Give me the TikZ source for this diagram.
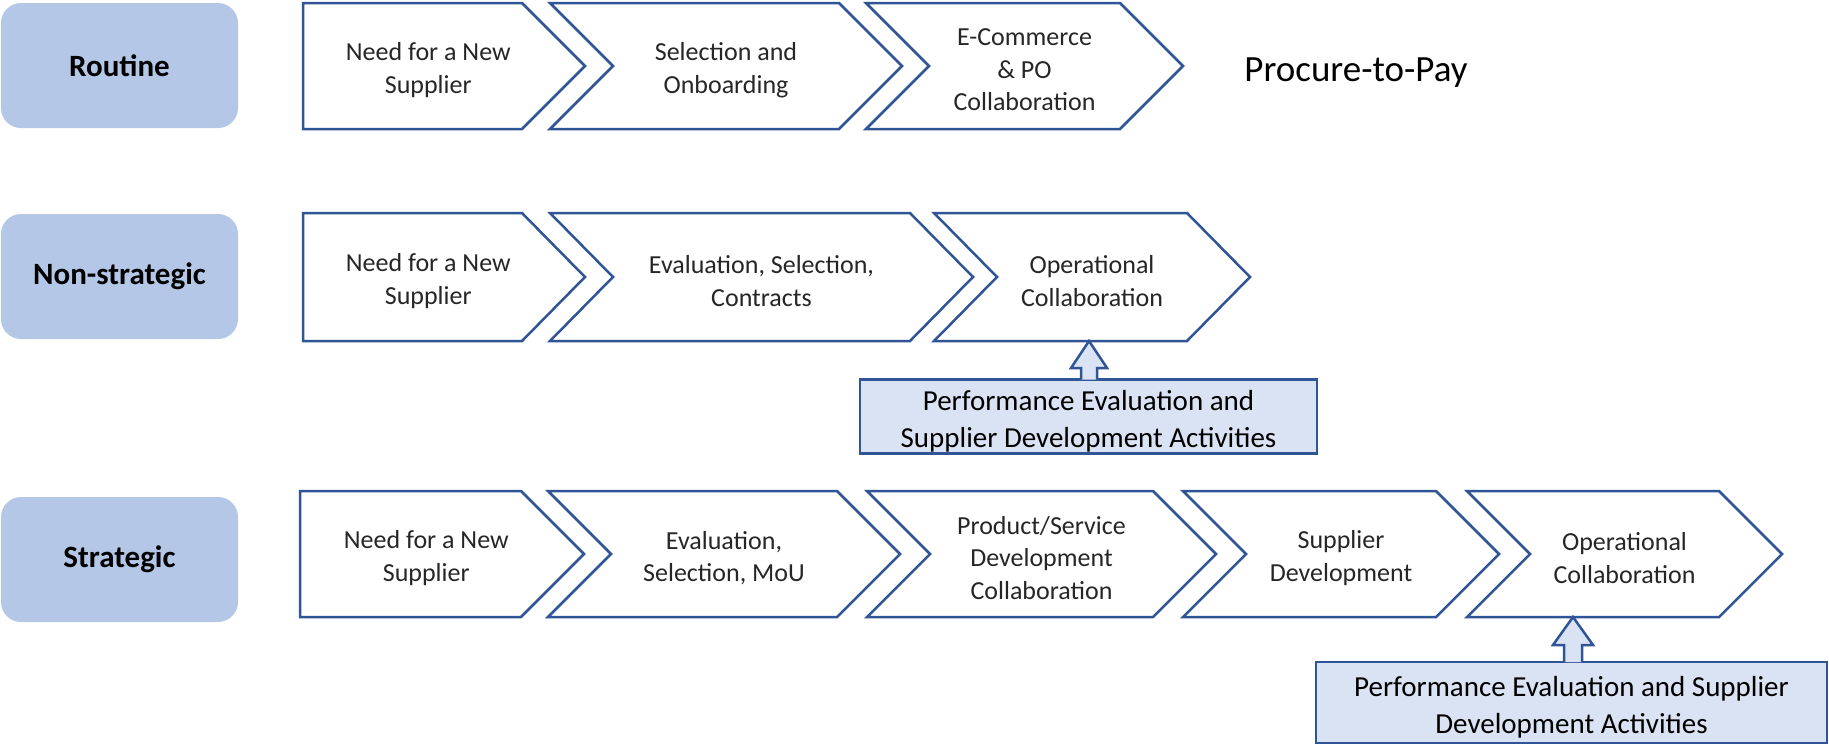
\documentclass[tikz,border=0pt]{standalone}
\usepackage{fontspec}
\setmainfont{Carlito}
\usetikzlibrary{calc}
\definecolor{lblfill}{HTML}{B4C7E7}
\definecolor{chevline}{HTML}{2F5597}
\definecolor{perffill}{HTML}{DAE3F3}
\definecolor{txt}{HTML}{262626}
\tikzset{
  chev/.style={draw=chevline, line width=2.5pt, fill=white, line join=miter},
  lbl/.style={fill=lblfill, rounded corners=20pt, inner sep=0pt, minimum width=237pt,
    minimum height=125pt, font=\fontsize{31}{37}\selectfont\bfseries, text=black},
  ctext/.style={align=center, text=txt, inner sep=0pt, yshift=-4pt, font=\fontsize{26}{32.5}\selectfont},
  perf/.style={draw=chevline, line width=2.5pt, fill=perffill, align=center, inner sep=0pt,
    text=black, font=\fontsize{29}{37}\selectfont},
  blk/.style={draw=chevline, line width=2.5pt, fill=perffill, line join=miter},
  title/.style={font=\fontsize{37}{44}\selectfont, text=black, inner sep=0pt}
}
% pentagon chevron: L, T, A(top), B(bottom), name, text
\newcommand\pentchev[6]{%
  \draw[chev] (#1,#3) -- ({#2-63},#3) -- (#2,{(#3+#4)/2}) -- ({#2-63},#4) -- (#1,#4) -- cycle;
  \node[ctext] (#5) at ({(#1+#2-31.5)/2},{(#3+#4)/2}) {#6};}
% notched chevron
\newcommand\notchchev[6]{%
  \draw[chev] (#1,#3) -- ({#2-63},#3) -- (#2,{(#3+#4)/2}) -- ({#2-63},#4) -- (#1,#4) -- ({#1+63},{(#3+#4)/2}) -- cycle;
  \node[ctext] (#5) at ({(#1+#2)/2},{(#3+#4)/2}) {#6};}
\newcommand\perftext[1]{\raisebox{-5pt}[\height][\depth]{\begin{tabular}{@{}c@{}}#1\end{tabular}}}
\begin{document}
\begin{tikzpicture}[x=1pt, y=-1pt]
\useasboundingbox (0,0) rectangle (1829,745);

% Row labels
\node[lbl] (routine) at (119.5,65.5) {Routine};
\node[lbl] (nonstrat) at (119.5,276.5) {Non-strategic};
\node[lbl] (strat) at (119.5,559.5) {Strategic};

% Row 1
\pentchev{303}{585}{3}{129}{ra}{Need for a New\\Supplier}
\notchchev{550}{902}{3}{129}{rb}{Selection and\\Onboarding}
\notchchev{866}{1183}{3}{129}{rc}{E-Commerce\\\& PO\\Collaboration}
\node[title] (p2p) at (1356,73) {Procure-to-Pay};

% Row 2
\pentchev{303}{585}{213}{341}{na}{Need for a New\\Supplier}
\notchchev{550}{973}{213}{341}{nb}{Evaluation, Selection,\\Contracts}
\notchchev{934}{1250}{213}{341}{nc}{Operational\\Collaboration}

% Row 3
\pentchev{300}{584}{491}{617}{sa}{Need for a New\\Supplier}
\notchchev{548}{900}{491}{617}{sb}{Evaluation,\\Selection, MoU}
\notchchev{867}{1216}{491}{617}{sc}{Product/Service\\Development\\Collaboration}
\notchchev{1183}{1499}{491}{617}{sd}{Supplier\\Development}
\notchchev{1467}{1782}{491}{617}{se}{Operational\\Collaboration}

% Performance boxes
\node[perf, minimum width=457pt, minimum height=73pt] (perfn) at (1088.5,416.5)
  {\perftext{Performance Evaluation and\\Supplier Development Activities}};
\node[perf, minimum width=511pt, minimum height=81pt] (perfs) at (1571.5,702.5)
  {\perftext{Performance Evaluation and Supplier\\Development Activities}};

% Block arrows
\coordinate (tipn) at (1089,341);
\draw[blk] ($(perfn.north -| tipn)+(-8,1.3)$) -- ($(tipn)+(-8,27)$) -- ($(tipn)+(-18,27)$)
  -- (tipn) -- ($(tipn)+(18,27)$) -- ($(tipn)+(8,27)$) -- ($(perfn.north -| tipn)+(8,1.3)$);
\coordinate (tips) at (1573,617);
\draw[blk] ($(perfs.north -| tips)+(-9,1.3)$) -- ($(tips)+(-9,28)$) -- ($(tips)+(-20,28)$)
  -- (tips) -- ($(tips)+(20,28)$) -- ($(tips)+(9,28)$) -- ($(perfs.north -| tips)+(9,1.3)$);
\end{tikzpicture}
\end{document}
